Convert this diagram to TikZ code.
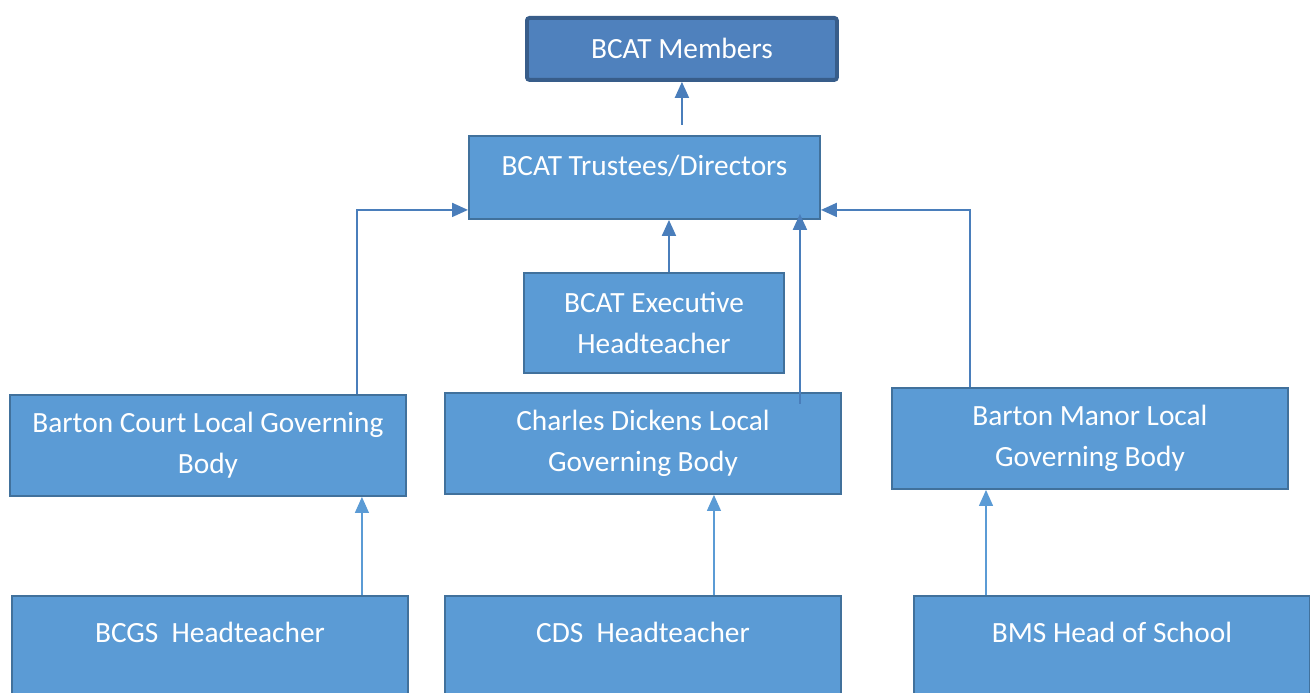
\documentclass[tikz,border=0pt]{standalone}
\usepackage{fontspec}
\setmainfont{Carlito}
\usepackage{xcolor}
\usetikzlibrary{positioning}
\usetikzlibrary{arrows.meta}

\definecolor{boxfill}{HTML}{5B9BD5}
\definecolor{boxline}{HTML}{41719C}
\definecolor{topfill}{HTML}{4F81BD}
\definecolor{topline}{HTML}{385D8A}
\definecolor{linkblue}{HTML}{4A7EBB}

\begin{document}
\begin{tikzpicture}[
  box/.style={draw=boxline, fill=boxfill, line width=1.1pt, text=white,
    inner sep=0pt, align=center, anchor=north west,
    font=\fontsize{16.7}{23.4}\selectfont},
  topbox/.style={box, draw=topline, fill=topfill, line width=2.2pt, rounded corners=1.5pt},
  oneline/.style={text height=0.42cm, text depth=#1},
  link/.style={draw=linkblue, line width=1.1pt, -{Triangle[width=0.28cm,length=0.32cm]}},
  thinlink/.style={link, draw=boxfill, line width=0.7pt}
]
\useasboundingbox (0,0) rectangle (26.2,-13.86);

% top levels
\node[topbox, oneline=0.04cm, minimum width=6.2cm, minimum height=1.24cm] (members) at (10.5,-0.32) {BCAT Members};
\node[box, oneline=0.5cm, minimum width=7.02cm, minimum height=1.66cm] (trustees) at (9.36,-2.7) {BCAT Trustees/Directors};
\node[box, minimum width=5.2cm, minimum height=2cm] (exec) at (10.46,-5.44) {BCAT Executive\\Headteacher};

% local governing bodies
\node[box, minimum width=7.92cm, minimum height=2.02cm] (bclgb) at (0.18,-7.88) {Barton Court Local Governing\\Body};
\node[box, minimum width=7.92cm, minimum height=2.02cm] (cdlgb) at (8.88,-7.84) {Charles Dickens Local\\Governing Body};
\node[box, minimum width=7.92cm, minimum height=2.02cm] (bmlgb) at (17.82,-7.74) {Barton Manor Local\\Governing Body};

% schools
\node[box, oneline=0.86cm, minimum width=7.92cm, minimum height=2.3cm] (bcgs) at (0.22,-11.9) {BCGS\ \ Headteacher};
\node[box, oneline=0.86cm, minimum width=7.92cm, minimum height=2.3cm] (cds) at (8.88,-11.9) {CDS\ \ Headteacher};
\node[box, oneline=0.86cm, minimum width=7.92cm, minimum height=2.3cm] (bms) at (18.26,-11.9) {BMS Head of School};

% connectors
\draw[link] ([yshift=2mm]trustees.north -| members.south) -- (members.south);
\draw[link] ([xshift=3mm]exec.north) -- ([xshift=3mm]exec.north |- trustees.south);
\draw[link] ([xshift=-1cm]bclgb.north east) |- ([yshift=2mm]trustees.south west);
\draw[link] ([xshift=1.58cm]bmlgb.north west) |- ([yshift=2mm]trustees.south east);
\draw[link] ([xshift=-8.4mm,yshift=-2.4mm]cdlgb.north east) -- ([xshift=-8.4mm,yshift=1.2mm]trustees.south -| cdlgb.north east);

\draw[thinlink] ([xshift=-9.4mm]bcgs.north east) -- ([xshift=-9.4mm]bcgs.north east |- bclgb.south);
\draw[thinlink] ([xshift=1.42cm]cds.north) -- ([xshift=1.42cm]cds.north |- cdlgb.south);
\draw[thinlink] ([xshift=1.46cm]bms.north west) -- ([xshift=1.46cm]bms.north west |- bmlgb.south);

\end{tikzpicture}
\end{document}
